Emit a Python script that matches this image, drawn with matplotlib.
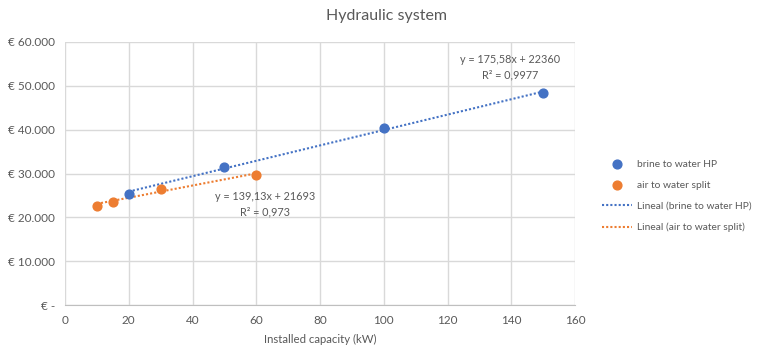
import matplotlib
matplotlib.use("Agg")
import matplotlib.pyplot as plt
import numpy as np
from matplotlib.ticker import FuncFormatter

plt.rcParams['font.family'] = ['Lato', 'DejaVu Sans']

title = "Hydraulic system"
xlabel = "Installed capacity (kW)"
brine_x = [20, 50, 100, 150]
brine_y = [25300, 31500, 40400, 48300]
air_x = [10, 15, 30, 60]
air_y = [22600, 23500, 26500, 29700]
brine_fit = (175.58, 22360)
air_fit = (139.13, 21693)
brine_label = "brine to water HP"
air_label = "air to water split"
brine_eq = "y = 175,58x + 22360\nR² = 0,9977"
air_eq = "y = 139,13x + 21693\nR² = 0,973"

blue = "#4472C4"
orange = "#ED7D31"
txt = "#595959"

fig = plt.figure(figsize=(7.59, 3.49), dpi=100)
ax = fig.add_axes([65/759, 1-305/349, 510/759, 263/349])

ax.scatter(brine_x, brine_y, color=blue, s=40, zorder=3, label=brine_label)
ax.scatter(air_x, air_y, color=orange, s=40, zorder=3, label=air_label)

bx = np.array([min(brine_x), max(brine_x)])
ax.plot(bx, brine_fit[0]*bx + brine_fit[1], ls=(0, (1, 1)), color=blue, lw=1.5,
        label="Lineal (brine to water HP)", zorder=2)
axx = np.array([min(air_x), max(air_x)])
ax.plot(axx, air_fit[0]*axx + air_fit[1], ls=(0, (1, 1)), color=orange, lw=1.5,
        label="Lineal (air to water split)", zorder=2)

ax.text(139.6, 54300, brine_eq, ha='center', va='center', fontsize=7.8, color=txt, linespacing=1.45)
ax.text(62.7, 23000, air_eq, ha='center', va='center', fontsize=7.8, color=txt, linespacing=1.45)

ax.set_xlim(0, 160)
ax.set_ylim(0, 60000)
ax.set_xticks(np.arange(0, 161, 20))
ax.set_yticks(np.arange(0, 60001, 10000))

def fmt(v, pos):
    if v == 0:
        return "€ -"
    return "€ " + f"{int(v):,}".replace(",", ".")
ax.yaxis.set_major_formatter(FuncFormatter(fmt))

ax.grid(True, color="#D9D9D9", lw=1)
ax.set_axisbelow(True)
for s in ['top', 'right', 'left']:
    ax.spines[s].set_visible(False)
ax.spines['bottom'].set_color("#BFBFBF")
ax.tick_params(length=0, colors=txt, labelsize=8.5, pad=7)
ax.set_xlabel(xlabel, color=txt, fontsize=8.2, labelpad=6)
fig.suptitle(title, x=0.509, y=0.975, color=txt, fontsize=11.5)

leg = ax.legend(loc='center left', bbox_to_anchor=(1 + 27/510, 0.414), frameon=False, fontsize=7.4,
                labelcolor=txt, handlelength=2.9, handletextpad=0.55, labelspacing=1.15,
                borderaxespad=0, borderpad=0)
fig.savefig("out.png", dpi=100)
